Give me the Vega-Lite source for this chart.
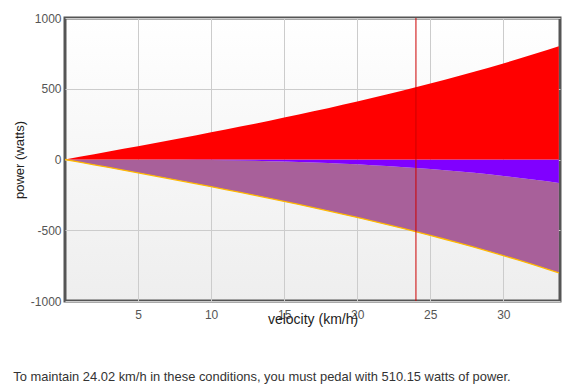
{
  "$schema": "https://vega.github.io/schema/vega-lite/v6.json",
  "width": 495,
  "height": 283,
  "autosize": {"type": "none"},
  "padding": {"left": 65, "top": 18, "right": 14, "bottom": 91},
  "title": {
    "text": "To maintain 24.02 km/h in these conditions, you must pedal with 510.15 watts of power.",
    "orient": "bottom",
    "anchor": "start",
    "frame": "bounds",
    "offset": 44,
    "font": "Liberation Sans",
    "fontSize": 12.9,
    "fontWeight": "normal",
    "color": "#333333"
  },
  "config": {
    "view": {
      "stroke": "#555555",
      "strokeWidth": 3,
      "fill": {
        "gradient": "linear",
        "x1": 0, "y1": 0, "x2": 0, "y2": 1,
        "stops": [
          {"offset": 0, "color": "#ffffff"},
          {"offset": 1, "color": "#eeeeee"}
        ]
      }
    },
    "axis": {
      "labelFont": "Liberation Sans",
      "titleFont": "Liberation Sans",
      "labelFontSize": 12,
      "titleFontSize": 14,
      "titleFontWeight": "normal",
      "labelColor": "#555555",
      "titleColor": "#222222",
      "gridColor": "#cccccc",
      "gridWidth": 1,
      "ticks": false,
      "domain": false
    }
  },
  "data": {
    "values": [
      {"v": 0, "pos": 0, "na": 0, "nt": 0},
      {"v": 1, "pos": 18.8, "na": 0, "nt": -18.8},
      {"v": 2, "pos": 37.6, "na": -0.03, "nt": -37.6},
      {"v": 3, "pos": 56.4, "na": -0.1, "nt": -56.4},
      {"v": 4, "pos": 75.4, "na": -0.3, "nt": -75.4},
      {"v": 5, "pos": 94.4, "na": -0.5, "nt": -94.4},
      {"v": 6, "pos": 113.5, "na": -0.9, "nt": -113.5},
      {"v": 7, "pos": 132.9, "na": -1.5, "nt": -132.9},
      {"v": 8, "pos": 152.4, "na": -2.2, "nt": -152.4},
      {"v": 9, "pos": 172.1, "na": -3.1, "nt": -172.1},
      {"v": 10, "pos": 192.0, "na": -4.3, "nt": -192.0},
      {"v": 11, "pos": 212.2, "na": -5.7, "nt": -212.2},
      {"v": 12, "pos": 232.7, "na": -7.4, "nt": -232.7},
      {"v": 13, "pos": 253.5, "na": -9.4, "nt": -253.5},
      {"v": 14, "pos": 274.6, "na": -11.8, "nt": -274.6},
      {"v": 15, "pos": 296.1, "na": -14.5, "nt": -296.1},
      {"v": 16, "pos": 317.9, "na": -17.6, "nt": -317.9},
      {"v": 17, "pos": 340.2, "na": -21.1, "nt": -340.2},
      {"v": 18, "pos": 362.9, "na": -25.1, "nt": -362.9},
      {"v": 19, "pos": 386.1, "na": -29.5, "nt": -386.1},
      {"v": 20, "pos": 409.8, "na": -34.4, "nt": -409.8},
      {"v": 21, "pos": 434.0, "na": -39.8, "nt": -434.0},
      {"v": 22, "pos": 458.7, "na": -45.8, "nt": -458.7},
      {"v": 23, "pos": 484.0, "na": -52.3, "nt": -484.0},
      {"v": 24, "pos": 509.9, "na": -59.4, "nt": -509.9},
      {"v": 25, "pos": 536.4, "na": -67.2, "nt": -536.4},
      {"v": 26, "pos": 563.6, "na": -75.6, "nt": -563.6},
      {"v": 27, "pos": 591.4, "na": -84.6, "nt": -591.4},
      {"v": 28, "pos": 620.0, "na": -94.4, "nt": -620.0},
      {"v": 29, "pos": 649.2, "na": -104.9, "nt": -649.2},
      {"v": 30, "pos": 679.2, "na": -116.1, "nt": -679.2},
      {"v": 31, "pos": 710.0, "na": -128.1, "nt": -710.0},
      {"v": 32, "pos": 741.5, "na": -140.9, "nt": -741.5},
      {"v": 33, "pos": 773.9, "na": -154.5, "nt": -773.9},
      {"v": 33.8, "pos": 800.5, "na": -166.0, "nt": -800.5}
    ]
  },
  "encoding": {
    "x": {
      "field": "v",
      "type": "quantitative",
      "scale": {"domain": [0, 33.88], "nice": false, "zero": false},
      "axis": {
        "title": "velocity (km/h)",
        "values": [5, 10, 15, 20, 25, 30],
        "labelPadding": 8,
        "titleY": 22.5,
        "titleBaseline": "alphabetic"
      }
    }
  },
  "layer": [
    {
      "mark": {"type": "area", "color": "#a8609a"},
      "encoding": {
        "y": {
          "field": "nt",
          "type": "quantitative",
          "scale": {"domain": [-1000, 1000], "nice": false},
          "axis": {
            "title": "power (watts)",
            "titleFontSize": 13,
            "values": [-1000, -500, 0, 500, 1000],
            "labelExpr": "datum.value + ''",
            "labelPadding": 4,
            "titlePadding": 4
          }
        },
        "y2": {"field": "na"}
      }
    },
    {
      "mark": {"type": "area", "color": "#8000ff"},
      "encoding": {
        "y": {"field": "na", "type": "quantitative"}
      }
    },
    {
      "mark": {"type": "area", "color": "#ff0000"},
      "encoding": {
        "y": {"field": "pos", "type": "quantitative"}
      }
    },
    {
      "mark": {"type": "line", "color": "#ffb800", "strokeWidth": 1.3},
      "encoding": {
        "y": {"field": "nt", "type": "quantitative"}
      }
    },
    {
      "data": {"values": [{"v": 24.02}]},
      "mark": {"type": "rule", "color": "#cc0000", "strokeWidth": 1},
      "encoding": {
        "x": {"field": "v", "type": "quantitative"}
      }
    }
  ]
}
